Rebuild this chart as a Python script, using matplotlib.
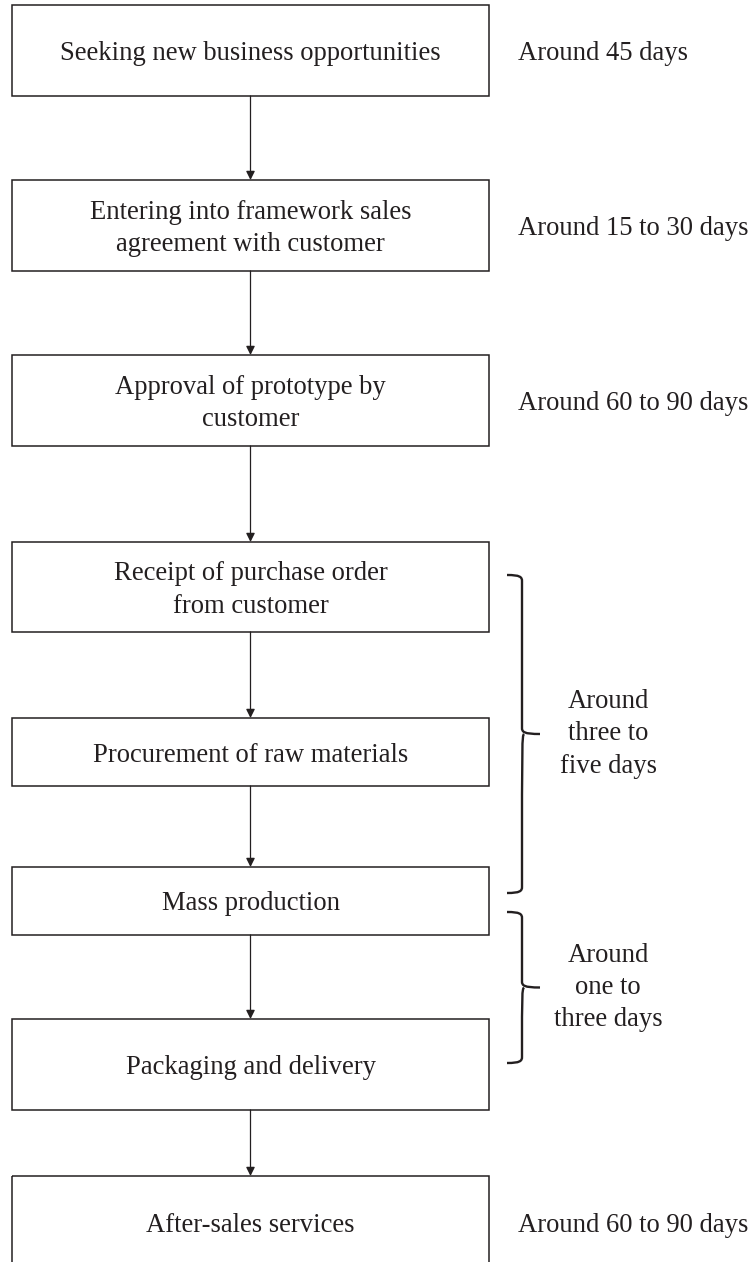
import matplotlib.pyplot as plt
from matplotlib.patches import Rectangle, PathPatch
from matplotlib.path import Path

# steps of the flow, top to bottom
steps = [
    'Seeking new business opportunities',
    'Entering into framework sales\nagreement with customer',
    'Approval of prototype by\ncustomer',
    'Receipt of purchase order\nfrom customer',
    'Procurement of raw materials',
    'Mass production',
    'Packaging and delivery',
    'After-sales services',
]
# time needed for single steps: (step index, label)
durations = [
    (0, 'Around 45 days'),
    (1, 'Around 15 to 30 days'),
    (2, 'Around 60 to 90 days'),
    (7, 'Around 60 to 90 days'),
]
# time needed for groups of steps: (first step, last step, label)
spans = [
    (3, 5, 'Around\nthree to\nfive days'),
    (5, 6, 'Around\none to\nthree days'),
]

# layout in pixels
box_top = [5, 180, 355, 542, 718, 867, 1019, 1176]
box_h = [91, 91, 91, 90, 68, 68, 91, 94]
box_x0, box_x1 = 12, 489
W, H = 750, 1262
ink = '#231f20'
font = 'Liberation Serif'
fs = 19.2
dy = 3  # visual centring of the text (va='center' counts descenders)

fig = plt.figure(figsize=(W / 100, H / 100), dpi=100)
ax = fig.add_axes([0, 0, 1, 1])
ax.set_xlim(0, W)
ax.set_ylim(H, 0)
ax.axis('off')

xc = (box_x0 + box_x1) / 2
for i, label in enumerate(steps):
    top, h = box_top[i], box_h[i]
    ax.add_patch(Rectangle((box_x0, top), box_x1 - box_x0, h,
                           fill=False, ec=ink, lw=1.1))
    ax.text(xc, top + h / 2 + dy, label, ha='center', va='center',
            family=font, fontsize=fs, color=ink, linespacing=1.38)
    # arrow to next box
    if i < len(steps) - 1:
        ax.annotate('', xy=(xc, box_top[i + 1]), xytext=(xc, top + h),
                    arrowprops=dict(arrowstyle='-|>', color=ink, lw=0.9,
                                    mutation_scale=13, shrinkA=0, shrinkB=0))

for i, label in durations:
    ax.text(518, box_top[i] + box_h[i] / 2 + dy, label, ha='left',
            va='center', family=font, fontsize=fs, color=ink)


def brace(y0, y1, x0=507, xv=522, xt=540, r=6):
    ym = (y0 + y1) / 2
    verts = [
        (x0, y0), (xv - 2, y0), (xv, y0 + 2), (xv, y0 + r),
        (xv, ym - r),
        (xv, ym - 2), (xv + 2, ym), (xt, ym),
        (xv + 2, ym), (xv, ym + 2), (xv, ym + r),
        (xv, y1 - r),
        (xv, y1 - 2), (xv - 2, y1), (x0, y1),
    ]
    codes = [Path.MOVETO, Path.CURVE4, Path.CURVE4, Path.CURVE4,
             Path.LINETO,
             Path.CURVE4, Path.CURVE4, Path.CURVE4,
             Path.MOVETO, Path.CURVE4, Path.CURVE4,
             Path.LINETO,
             Path.CURVE4, Path.CURVE4, Path.CURVE4]
    ax.add_patch(PathPatch(Path(verts, codes), fill=False, ec=ink, lw=1.7))
    return ym


brace_y = [(575, 893), (912, 1063)]
for (a, b, label), (y0, y1) in zip(spans, brace_y):
    ym = brace(y0, y1)
    ax.text(608, ym, label, ha='center', va='center', family=font,
            fontsize=fs, color=ink, linespacing=1.38)

fig.savefig('out.png', dpi=100, facecolor='white')
